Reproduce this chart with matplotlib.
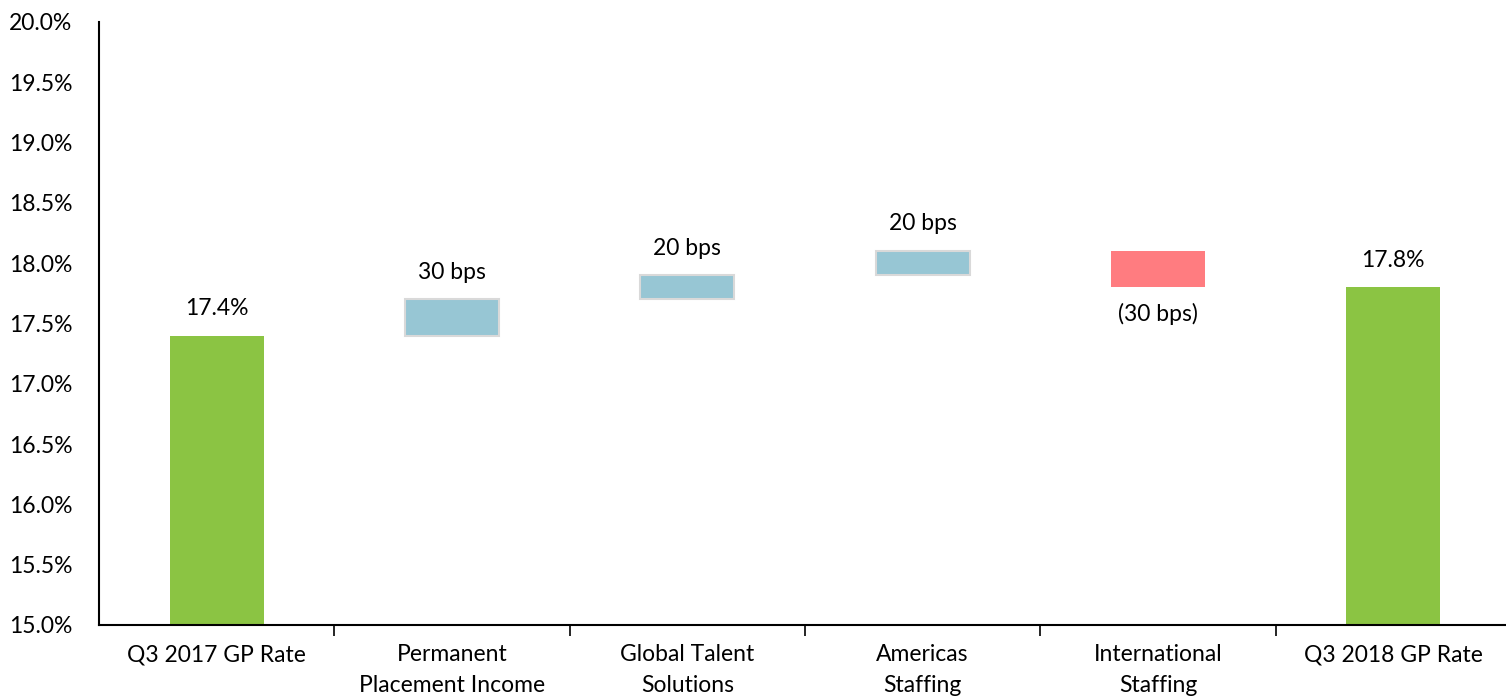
import matplotlib
matplotlib.use("Agg")
import matplotlib.pyplot as plt
from matplotlib.ticker import FuncFormatter, MultipleLocator

categories = ["Q3 2017 GP Rate", "Permanent\nPlacement Income", "Global Talent\nSolutions",
              "Americas\nStaffing", "International\nStaffing", "Q3 2018 GP Rate"]
starts = [15.0, 17.4, 17.7, 17.9, 18.1, 15.0]
ends = [17.4, 17.7, 17.9, 18.1, 17.8, 17.8]
labels = ["17.4%", "30 bps", "20 bps", "20 bps", "(30 bps)", "17.8%"]
kinds = ["total", "up", "up", "up", "down", "total"]

colors = {"total": "#8BC443", "up": "#97C6D4", "down": "#FF7C80"}
edges = {"total": "none", "up": "#D9D9D9", "down": "none"}

plt.rcParams['font.family'] = ['Lato', 'DejaVu Sans']
fig = plt.figure(figsize=(15.06, 6.98), dpi=100)
ax = fig.add_axes([99/1506, 1-625/698, (1511-99)/1506, (625-22)/698])

x = list(range(len(categories)))
for i in x:
    lo, hi = min(starts[i], ends[i]), max(starts[i], ends[i])
    ax.bar(i, hi - lo, bottom=lo, width=0.40, color=colors[kinds[i]],
           edgecolor=edges[kinds[i]], linewidth=1.5 if kinds[i] == "up" else 0, zorder=2)
    if kinds[i] == "down":
        ax.annotate(labels[i], (i, lo), xytext=(0, -11), textcoords="offset points",
                    ha="center", va="top", fontsize=16.5)
    else:
        ax.annotate(labels[i], (i, hi), xytext=(0, 12), textcoords="offset points",
                    ha="center", va="bottom", fontsize=16.5)

ax.set_xlim(-0.5, len(categories) - 0.5)
ax.set_ylim(15.0, 20.0)
ax.yaxis.set_major_locator(MultipleLocator(0.5))
ax.yaxis.set_major_formatter(FuncFormatter(lambda v, p: f"{v:.1f}%"))
ax.tick_params(axis="y", length=0, labelsize=16.5, pad=19)
ax.set_xticks(x)
ax.set_xticklabels(categories, fontsize=16.5, linespacing=1.55)
ax.set_xticks([i + 0.5 for i in x[:-1]], minor=True)
ax.tick_params(axis="x", which="major", length=0, pad=14)
ax.tick_params(axis="x", which="minor", length=8, width=1.2, direction="out")
for s in ["top", "right"]:
    ax.spines[s].set_visible(False)
for s in ["left", "bottom"]:
    ax.spines[s].set_linewidth(1.5)
    ax.spines[s].set_color("black")

fig.savefig("out.png", dpi=100)
